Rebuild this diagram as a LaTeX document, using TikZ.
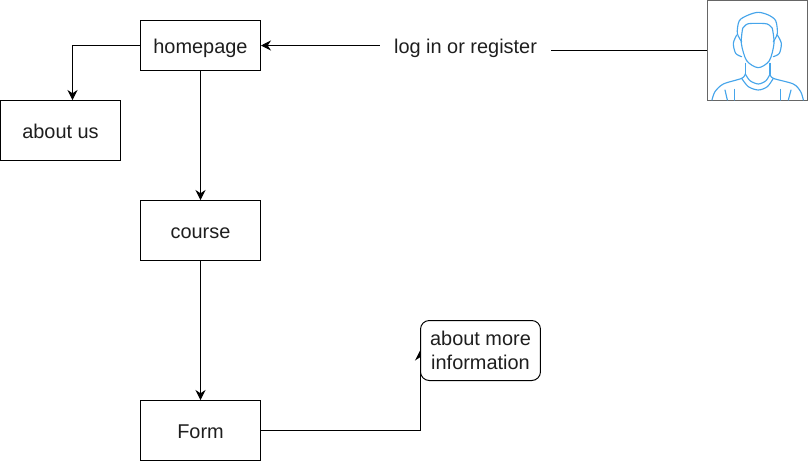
\documentclass[tikz,border=0pt]{standalone}
\usepackage{fontspec}
\setmainfont{Liberation Sans}
\usetikzlibrary{arrows.meta, positioning, backgrounds}
\definecolor{usericon}{RGB}{70,165,235}
\definecolor{framegray}{RGB}{102,102,102}
\definecolor{labeltext}{RGB}{30,30,30}

\begin{document}
\begin{tikzpicture}[
    x=0.02cm, y=-0.02cm,
    node distance=2.6cm and 0.9cm,
    pagetext/.style={font=\fontsize{11.34}{13.6}\selectfont, text=labeltext, text height=9.6pt, text depth=0.8pt},
    page/.style={pagetext, rectangle, draw=black, fill=white, line width=0.57pt, minimum width=2.4cm, inner sep=0pt},
    link/.style={-{Stealth[length=2mm, width=2mm]}, black, line width=0.57pt},
    plain/.style={black, line width=0.57pt},
    iconline/.style={usericon, line width=0.65pt, line cap=round, line join=round},
]
\useasboundingbox (0,0) rectangle (808,461);

% pages
\node[page, minimum height=1cm] (homepage) at (200.5,45.5) {homepage};
\node[page, minimum height=1.2cm] (aboutus) at (60.5,130.5) {about us};
\node[page, minimum height=1.2cm] (course) at (200.5,230.5) {course};
\node[page, minimum height=1.2cm] (form) at (200.5,430.5) {Form};
\node[page, minimum height=1.2cm, rounded corners=5pt, align=center, text height={}, text depth={}] (moreinfo) at (480.5,350.5) {about more\\information};

% user
\node[rectangle, draw=framegray, fill=white, line width=0.6pt, minimum size=2cm, inner sep=0pt] (user) at (757.5,50.5) {};
\node[pagetext, minimum width=3.42cm, inner sep=0pt] (login) at (465.5,45.5) {log in or register};

% connectors
\begin{scope}[on background layer]
  \draw[link] (homepage.west) -| ([xshift=0.24cm]aboutus.north);
  \draw[link] (homepage) -- (course);
  \draw[link] (course) -- (form);
  \draw[link] (form.east) -| (moreinfo.west);
  \draw[link] (login.west) -- (homepage.east);
  \draw[plain] (user.west) -- (user.west -| login.east);
\end{scope}

% user icon
\begin{scope}[shift={(690,0)}, scale=1/3]
  \draw[iconline] plot[smooth] coordinates {(155,125) (142,100) (148,62) (175,45) (205,37) (235,45) (257,62) (262,100) (250,125)};
  \draw[iconline] plot[smooth] coordinates {(158,85) (172,72) (200,70) (232,72) (247,85)};
  \draw[iconline] plot[smooth] coordinates {(158,85) (154,130) (170,182) (205,203) (238,182) (252,130) (247,85)};
  \draw[iconline] plot[smooth] coordinates {(140,105) (130,130) (137,160) (155,170)};
  \draw[iconline] plot[smooth] coordinates {(262,105) (274,130) (268,160) (250,170)};
  \draw[iconline] (166,190) -- (166,222);
  \draw[iconline] (240,190) -- (240,222);
  \draw[iconline] plot[smooth] coordinates {(166,222) (180,242) (205,252) (228,242) (240,222)};
  \draw[iconline] plot[smooth] coordinates {(155,235) (175,260) (205,270) (232,260) (250,235)};
  \draw[iconline] plot[smooth] coordinates {(166,222) (155,235) (100,252) (75,275) (66,300)};
  \draw[iconline] plot[smooth] coordinates {(240,222) (250,235) (310,252) (332,275) (340,300)};
  \draw[iconline] (105,270) -- (112,300);
  \draw[iconline] (133,268) -- (133,300);
  \draw[iconline] (272,268) -- (272,300);
  \draw[iconline] (303,270) -- (295,300);
\end{scope}

\end{tikzpicture}
\end{document}
